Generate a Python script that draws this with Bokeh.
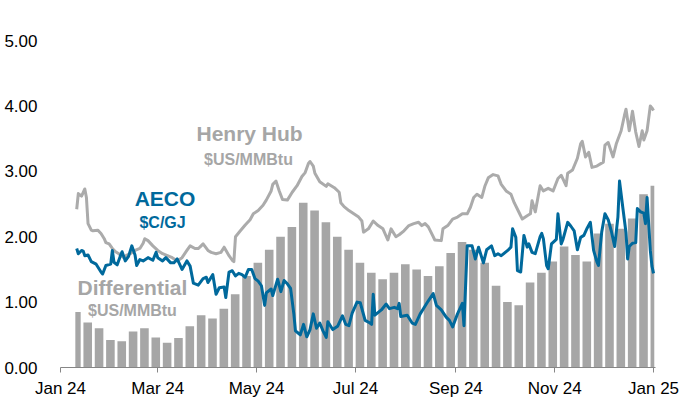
from datetime import datetime, timedelta
import pandas as pd
from bokeh.plotting import figure
from bokeh.models import (ColumnDataSource, Range1d, FixedTicker, DatetimeTickFormatter,
                          NumeralTickFormatter, Label)
from bokeh.embed import file_html
from bokeh.resources import INLINE

# ---------------- data ----------------
BASE = datetime(2024, 1, 1)          # day 0 of the day-of-year offsets below
FIRST_DAY = datetime(2024, 1, 10)
LAST_DAY = datetime(2024, 12, 31)

# Henry Hub, US$/MMBtu  (day offset from 2024-01-01, value)
hh_day = [10, 11, 13, 15, 16, 17, 19, 20, 23, 25, 27, 28, 30, 32, 34, 36, 39, 41, 43, 46,
          49, 51, 52, 54, 57, 60, 63, 66, 69, 72, 75, 78, 80, 83, 85, 86, 88, 91, 93, 96,
          99, 101, 104, 106, 107, 108, 111, 114, 117, 119, 122, 125, 127, 130, 131, 133, 135, 137, 140, 143,
          146, 149, 151, 153, 154, 156, 157, 160, 164, 165, 169, 172, 173, 175, 178, 181, 184, 186, 187, 190,
          193, 196, 199, 202, 204, 207, 209, 212, 215, 218, 221, 223, 225, 227, 230, 231, 235, 236, 239, 242,
          245, 248, 251, 253, 255, 257, 260, 262, 264, 267, 270, 272, 275, 278, 280, 283, 285, 288, 290, 291,
          293, 296, 298, 301, 304, 307, 309, 312, 313, 316, 319, 321, 322, 324, 326, 328, 331, 335, 336, 338,
          341, 343, 346, 348, 349, 351, 353, 355, 357, 359, 360, 362, 364, 365, 366]
hh_val = [2.42, 2.66, 2.62, 2.73, 2.60, 2.20, 2.10, 2.09, 2.10, 2.05, 1.97, 1.91, 1.89, 1.82, 1.77, 1.74, 1.68, 1.72, 1.74, 1.79,
          1.82, 1.90, 1.97, 1.94, 1.86, 1.79, 1.74, 1.71, 1.68, 1.63, 1.68, 1.79, 1.86, 1.82, 1.82, 1.84, 1.89, 1.79, 1.76, 1.74,
          1.76, 1.84, 1.71, 1.64, 1.62, 2.00, 2.09, 2.18, 2.26, 2.35, 2.40, 2.48, 2.56, 2.70, 2.80, 2.85, 2.70, 2.57, 2.56, 2.68,
          2.78, 2.92, 2.98, 3.12, 3.15, 3.08, 2.97, 2.84, 2.77, 2.81, 2.75, 2.68, 2.52, 2.46, 2.40, 2.35, 2.30, 2.24, 2.07, 2.12,
          2.24, 2.17, 2.12, 1.95, 2.12, 2.00, 2.03, 2.09, 2.17, 2.20, 2.22, 2.17, 2.20, 2.15, 2.00, 1.95, 1.94, 2.12, 2.17, 2.27,
          2.30, 2.35, 2.35, 2.45, 2.60, 2.65, 2.60, 2.78, 2.90, 2.95, 2.93, 2.80, 2.70, 2.65, 2.52, 2.37, 2.27, 2.32, 2.35, 2.55,
          2.38, 2.78, 2.70, 2.74, 2.70, 2.89, 2.94, 2.78, 2.97, 3.02, 3.20, 3.42, 3.46, 3.22, 3.29, 3.06, 3.08, 3.14, 3.40, 3.44,
          3.22, 3.42, 3.62, 3.85, 3.95, 3.62, 3.92, 3.60, 3.38, 3.62, 3.48, 3.62, 4.00, 3.97, 3.93]

# AECO, C$/GJ
aeco_day = [10, 11, 13, 14, 15, 17, 19, 22, 25, 26, 28, 31, 32, 33, 35, 37, 38, 40, 42, 44,
            46, 47, 49, 51, 54, 57, 59, 60, 63, 65, 68, 70, 72, 75, 78, 80, 82, 85, 88, 90,
            91, 94, 96, 98, 101, 102, 104, 106, 108, 110, 112, 114, 116, 118, 120, 122, 124, 126, 127, 130,
            131, 134, 136, 138, 140, 142, 144, 145, 147, 148, 150, 152, 154, 156, 158, 160, 162, 164, 165, 168,
            171, 174, 176, 178, 180, 183, 185, 188, 191, 192, 193, 194, 198, 201, 203, 206, 208, 209, 210, 214,
            217, 219, 222, 225, 227, 230, 232, 235, 238, 240, 242, 245, 248, 249, 251, 254, 256, 258, 261, 263,
            266, 268, 270, 272, 276, 278, 279, 281, 282, 284, 286, 288, 289, 291, 293, 296, 297, 298, 300, 301,
            303, 306, 307, 309, 310, 313, 315, 317, 319, 321, 323, 325, 327, 329, 331, 332, 334, 336, 338, 340,
            342, 344, 345, 347, 349, 350, 351, 353, 355, 356, 358, 360, 361, 362, 364, 365, 366]
aeco_val = [1.82, 1.74, 1.79, 1.78, 1.71, 1.72, 1.62, 1.58, 1.46, 1.43, 1.56, 1.58, 1.79, 1.61, 1.57, 1.71, 1.77, 1.63, 1.70, 1.86,
            1.72, 1.56, 1.65, 1.63, 1.68, 1.64, 1.76, 1.68, 1.63, 1.68, 1.60, 1.60, 1.66, 1.50, 1.63, 1.55, 1.29, 1.26, 1.36, 1.38,
            1.30, 1.42, 1.12, 1.22, 1.23, 1.07, 1.46, 1.48, 1.40, 1.44, 1.42, 1.38, 1.50, 1.50, 1.36, 1.32, 1.25, 0.95, 1.14, 1.20,
            1.10, 1.35, 1.16, 1.33, 1.28, 1.21, 0.82, 0.56, 0.52, 0.50, 0.66, 0.47, 0.58, 0.82, 0.60, 0.68, 0.56, 0.46, 0.70, 0.58,
            0.63, 0.79, 0.66, 0.64, 0.83, 1.00, 0.99, 0.72, 0.68, 0.66, 1.12, 0.80, 0.88, 0.97, 0.90, 0.92, 0.90, 0.98, 0.78, 0.80,
            0.68, 0.66, 0.82, 0.94, 1.02, 1.13, 0.95, 0.88, 0.77, 0.72, 0.62, 0.82, 0.98, 0.64, 1.86, 1.86, 1.66, 1.84, 1.60, 1.80,
            1.86, 1.71, 1.74, 1.71, 1.79, 1.84, 2.12, 1.99, 1.48, 1.46, 2.02, 1.84, 1.89, 1.76, 1.74, 2.00, 2.05, 1.97, 1.56, 1.51,
            1.89, 1.96, 2.35, 1.89, 1.95, 2.22, 2.16, 2.09, 1.80, 1.99, 2.02, 2.13, 2.22, 1.79, 1.62, 1.56, 2.07, 2.35, 2.26, 2.08,
            1.85, 2.30, 2.85, 2.45, 2.06, 1.66, 1.85, 1.90, 1.91, 2.43, 2.38, 2.36, 2.20, 2.60, 1.79, 1.55, 1.44]

# Differential, US$/MMBtu, one value per trading week (weeks starting Mondays from 2024-01-08)
diff_week_val = [0.85, 0.69, 0.60, 0.42, 0.40, 0.55, 0.60, 0.46, 0.38, 0.45,
                 0.63, 0.80, 0.75, 0.90, 1.12, 1.40, 1.60, 1.80, 2.00, 2.15,
                 2.52, 2.40, 2.22, 2.00, 1.80, 1.60, 1.45, 1.35, 1.45, 1.58,
                 1.50, 1.40, 1.55, 1.75, 1.92, 1.80, 1.60, 1.25, 1.00, 0.95,
                 1.30, 1.45, 1.62, 1.85, 1.72, 1.62, 2.05, 2.20, 2.12, 2.28,
                 2.65, 2.78]

x_tick_dates = ["2024-01-01", "2024-03-01", "2024-05-01", "2024-07-01",
                "2024-09-01", "2024-11-01", "2025-01-01"]
y_ticks = [0, 1, 2, 3, 4, 5]

# ---------------- styling ----------------
GREY = "#a6a6a6"
LINE_GREY = "#ababab"
BLUE = "#00699c"
FONT = "Liberation Sans"


def ms(dt):
    return pd.Timestamp(dt).value / 1e6


# weekly bars
mondays = pd.date_range("2024-01-08", periods=len(diff_week_val), freq="7D")
lefts, rights = [], []
for m in mondays:
    start = max(m, pd.Timestamp(FIRST_DAY))
    end = min(m + pd.Timedelta(days=4), pd.Timestamp(LAST_DAY))
    lefts.append(start + pd.Timedelta(days=0.15))
    rights.append(end + pd.Timedelta(days=1.45))
bars = ColumnDataSource(dict(left=lefts, right=rights, top=diff_week_val,
                             bottom=[0] * len(diff_week_val)))

hh = ColumnDataSource(dict(x=[BASE + timedelta(days=d) for d in hh_day], y=hh_val))
aeco = ColumnDataSource(dict(x=[BASE + timedelta(days=d) for d in aeco_day], y=aeco_val))

p = figure(width=680, height=400, x_axis_type="datetime",
           x_range=Range1d(BASE, BASE + timedelta(days=367.2)),
           y_range=Range1d(0, 5.612),
           output_backend="svg", toolbar_location=None,
           min_border_left=60, min_border_right=25, min_border_top=0, min_border_bottom=33)
p.outline_line_color = None
p.grid.visible = False
p.background_fill_color = "white"
p.border_fill_color = "white"

p.quad(left="left", right="right", top="top", bottom="bottom", source=bars,
       fill_color=GREY, line_color=None)
p.line("x", "y", source=hh, line_color=LINE_GREY, line_width=3, line_join="round")
p.line("x", "y", source=aeco, line_color=BLUE, line_width=3, line_join="round")

# axes
p.yaxis.ticker = FixedTicker(ticks=y_ticks)
p.yaxis.formatter = NumeralTickFormatter(format="0.00")
p.yaxis.axis_line_color = None
p.yaxis.major_tick_line_color = None
p.yaxis.minor_tick_line_color = None
p.yaxis.major_label_standoff = 17
p.yaxis.major_label_text_font = FONT
p.yaxis.major_label_text_font_size = "17px"
p.yaxis.major_label_text_color = "#000000"

p.xaxis.ticker = FixedTicker(ticks=[ms(t) for t in x_tick_dates])
fmt = "%b %y"
p.xaxis.formatter = DatetimeTickFormatter(days=fmt, months=fmt, years=fmt)
p.xaxis.axis_line_color = "#868686"
p.xaxis.major_tick_line_color = "#868686"
p.xaxis.minor_tick_line_color = None
p.xaxis.major_tick_out = 5
p.xaxis.major_tick_in = 0
p.xaxis.major_label_standoff = 6
p.xaxis.major_label_text_font = FONT
p.xaxis.major_label_text_font_size = "17px"
p.xaxis.major_label_text_color = "#000000"

# series labels
def add_label(day, yv, text, color, size):
    p.add_layout(Label(x=ms(BASE + timedelta(days=day)), y=yv, text=text,
                       text_align="center", text_baseline="middle",
                       text_font=FONT, text_font_style="bold",
                       text_font_size=size, text_color=color))

add_label(116.7, 3.58, "Henry Hub", GREY, "21px")
add_label(116.0, 3.18, "$US/MMBtu", GREY, "16px")
add_label(64.5, 2.58, "AECO", BLUE, "21px")
add_label(63.0, 2.22, "$C/GJ", BLUE, "16px")
add_label(44.4, 1.22, "Differential", GREY, "21px")
add_label(44.4, 0.87, "$US/MMBtu", GREY, "16px")

open("out.html", "w").write(file_html(p, INLINE))
